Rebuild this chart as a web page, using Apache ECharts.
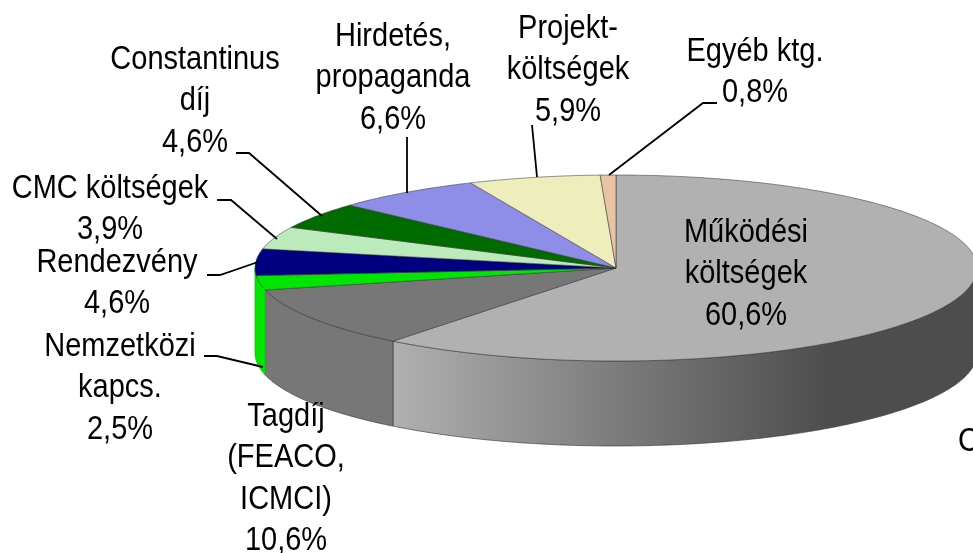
<!DOCTYPE html>
<html><head><meta charset="utf-8">
<style>html,body{margin:0;padding:0;background:#fff;overflow:hidden}#c{width:973px;height:553px}</style>
<script src="https://cdn.jsdelivr.net/npm/echarts@6/dist/echarts.min.js"></script>
</head><body><div id="c"></div>
<script>
// Data, clockwise from 12 o'clock
const categories = ['Működési\nköltségek','Tagdíj\n(FEACO,\nICMCI)','Nemzetközi\nkapcs.','Rendezvény','CMC költségek','Constantinus\ndíj','Hirdetés,\npropaganda','Projekt-\nköltségek','Egyéb ktg.'];
const shares = [60.6,10.6,2.5,4.6,3.9,4.6,6.6,5.9,0.8];
const topColors = ['#b1b1b1','#777777','#00e600','#000080','#bbeabb','#006c00','#8e8ee8','#eeeebc','#e8c3a4'];

// Layout
const cx=616, cy=268, rx=361, ry=93, depth=85;
const labelAnchors = [[746,242],[286,426],[120,356],[117,272],[110,198],[195,69],[393,46],[568,38],[755,61]];
const leaders = [null,null,
  [[204,356],[217,356],[263,367]],
  [[207,275],[220,275],[258,262]],
  [[217,200],[231,200],[277,239]],
  [[236,153],[249,153],[322,216]],
  [[407,137],[407,193]],
  [[532,125],[537,177]],
  [[717,103],[703,103],[609,175]]];
const fontSize=29, scaleY=1.14, lineStep=41.5, baseDrop=7;
const lastFrontSlice=2;

const total = 100;
let run=0;
const sliceData = shares.map((v,i)=>{const s=run; run+=v; return [i,s,v];});
const pt=(pct,dy=0)=>{const t=pct/total*2*Math.PI; return [cx+rx*Math.sin(t), cy-ry*Math.cos(t)+dy];};
const arc=(a,b,dy)=>{const n=Math.max(2,Math.ceil((b-a)*4)),o=[];for(let k=0;k<=n;k++)o.push(pt(a+(b-a)*k/n,dy));return o;};
const outline='rgba(50,50,50,0.75)';
const sideFill=i=> i===0 ? {type:'linear',x:392,y:0,x2:830,y2:0,global:true,colorStops:[{offset:0,color:'#b0b0b0'},{offset:0.55,color:'#787878'},{offset:1,color:'#4d4d4d'}]} : topColors[i];

function renderSide(params,api){
  const i=api.value(0), a=api.value(1), b=a+api.value(2);
  if(i>lastFrontSlice) return {type:'group',children:[]};
  const lo=Math.max(a,total/4), hi=i===lastFrontSlice?total*3/4:Math.min(b,total*3/4);
  const pts=arc(lo,hi,0).concat(arc(lo,hi,depth).reverse());
  return {type:'polygon',shape:{points:pts},style:{fill:sideFill(i),stroke:i===lastFrontSlice?'#00c800':outline,lineWidth:0.8},silent:true};
}
function renderTop(params,api){
  const i=api.value(0), a=api.value(1), b=Math.min(a+api.value(2),total);
  const pts=[[cx,cy]].concat(arc(a,b,0));
  return {type:'polygon',shape:{points:pts},style:{fill:topColors[i],stroke:outline,lineWidth:0.7},silent:true};
}
function renderLabel(params,api){
  const i=api.value(0), pct=api.value(2).toFixed(1).replace('.',',')+'%';
  const lines=categories[i].split('\n').concat(pct), [x,y0]=labelAnchors[i], ch=[];
  lines.forEach((t,k)=>ch.push({type:'text',x:x,y:y0+baseDrop+k*lineStep,scaleY:scaleY,silent:true,
    style:{text:t,x:0,y:0,align:'center',verticalAlign:'bottom',fill:'#000',
      font:fontSize+'px "Liberation Sans", Arial, sans-serif'}}));
  if(leaders[i]) ch.push({type:'polyline',shape:{points:leaders[i]},silent:true,style:{fill:'none',stroke:'#000',lineWidth:1.8}});
  return {type:'group',children:ch};
}
const common={type:'custom',coordinateSystem:'none',data:sliceData,animation:false,silent:true,clip:false};
const chart=echarts.init(document.getElementById('c'));
chart.setOption({
  animation:false, backgroundColor:'#fff',
  series:[
    Object.assign({},common,{z:1,renderItem:renderSide}),
    Object.assign({},common,{z:2,renderItem:renderTop}),
    Object.assign({},common,{z:3,renderItem:renderLabel})
  ],
  graphic:[{type:'text',z:10,x:958,y:451+baseDrop,scaleY:scaleY,silent:true,style:{text:'C',x:0,y:0,align:'left',verticalAlign:'bottom',fill:'#000',font:fontSize+'px "Liberation Sans", Arial, sans-serif'}}]
});
</script></body></html>
